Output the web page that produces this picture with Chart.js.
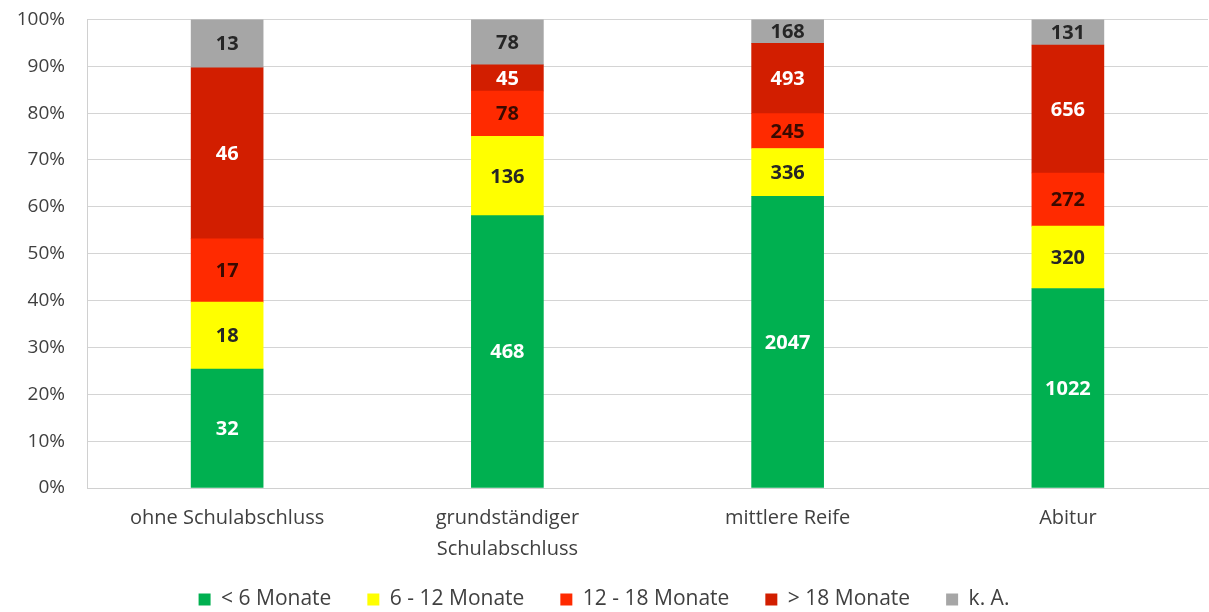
<!DOCTYPE html>
<html>
<head>
<meta charset="utf-8">
<script src="https://cdn.jsdelivr.net/npm/chart.js@4/dist/chart.umd.min.js"></script>
<style>
  body { margin: 0; background: #fff; }
  #wrap { width: 1209px; height: 612px; }
</style>
</head>
<body>
<div id="wrap"><canvas id="chart" width="1209" height="612"></canvas></div>
<script>
// Kategorien und Werte (Anzahl Personen)
const categories = ['ohne Schulabschluss', ['grundständiger', 'Schulabschluss'], 'mittlere Reife', 'Abitur'];
const seriesNames = ['< 6 Monate', '6 - 12 Monate', '12 - 18 Monate', '> 18 Monate', 'k. A.'];
const under6 = [32, 468, 2047, 1022];
const from6to12 = [18, 136, 336, 320];
const from12to18 = [17, 78, 245, 272];
const over18 = [46, 45, 493, 656];
const keineAngabe = [13, 78, 168, 131];

const colors = ['#00b050', '#ffff00', '#ff2a00', '#d21e00', '#a6a6a6'];
const labelColors = ['#ffffff', '#262626', '#3a0a00', '#ffffff', '#262626'];
const FONT = '"Open Sans"';

const counts = [under6, from6to12, from12to18, over18, keineAngabe];
const totals = categories.map((c, i) => counts.reduce((s, arr) => s + arr[i], 0));

// Balkenbeschriftung mit den absoluten Zahlen
const countLabels = {
    id: 'countLabels',
    afterDatasetsDraw(chart) {
        const ctx = chart.ctx;
        ctx.save();
        ctx.font = 'bold 20px ' + FONT;
        ctx.textAlign = 'center';
        ctx.textBaseline = 'middle';
        chart.data.datasets.forEach((ds, di) => {
            const meta = chart.getDatasetMeta(di);
            meta.data.forEach((bar, i) => {
                ctx.fillStyle = labelColors[di];
                ctx.fillText(String(ds.counts[i]), bar.x, (bar.y + bar.base) / 2 + 1);
            });
        });
        ctx.restore();
    }
};

const ctx = document.getElementById('chart').getContext('2d');
new Chart(ctx, {
    type: 'bar',
    data: {
        labels: categories,
        datasets: counts.map((arr, di) => ({
            label: seriesNames[di],
            data: arr.map((v, i) => v / totals[i] * 100),
            counts: arr,
            backgroundColor: colors[di],
            borderWidth: 0,
            barThickness: 72
        }))
    },
    options: {
        responsive: false,
        animation: false,
        layout: { padding: { top: 8, right: 1, left: 0, bottom: -8 } },
        plugins: {
            tooltip: { enabled: false },
            legend: {
                position: 'bottom',
                labels: {
                    boxWidth: 12,
                    boxHeight: 12,
                    padding: 36,
                    color: '#404040',
                    font: { family: 'Open Sans', size: 21 }
                }
            }
        },
        scales: {
            x: {
                stacked: true,
                grid: { display: false },
                border: { color: '#d0d0d0' },
                ticks: {
                    color: '#404040',
                    maxRotation: 0,
                    padding: 7,
                    font: { family: 'Open Sans', size: 20, lineHeight: 1.55 }
                },
                afterFit(scale) {
                    scale.height = 65;
                    // zweizeilige Beschriftung darf in den Legendenbereich ragen
                    scale._computeLabelArea = () => undefined;
                }
            },
            y: {
                stacked: true,
                min: 0,
                max: 100,
                grid: { color: '#d4d4d4', drawTicks: true, tickLength: 14, tickColor: 'rgba(0,0,0,0)' },
                border: { color: '#d0d0d0' },
                ticks: {
                    stepSize: 10,
                    padding: 8,
                    color: '#404040',
                    font: { family: 'Open Sans', size: 19 },
                    callback: v => v + '%'
                },
                afterFit(scale) { scale.width = 87; }
            }
        }
    },
    plugins: [countLabels]
});
</script>
</body>
</html>
